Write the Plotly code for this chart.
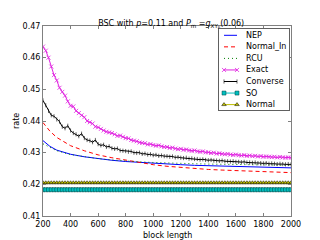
import plotly.graph_objects as go

# block lengths for the simulated (marked) series
x_dense = list(range(200, 2001, 20))
# block lengths for smooth curves
x_smooth = [200, 250, 300, 400, 500, 600, 700, 800, 900, 1000, 1100, 1200,
            1300, 1400, 1500, 1600, 1700, 1800, 1900, 2000]

nep = [0.4338, 0.4320, 0.4308, 0.4295, 0.4287, 0.4281, 0.4276, 0.4272, 0.4269, 0.4266,
       0.4264, 0.4262, 0.4260, 0.4259, 0.4257, 0.4256, 0.4255, 0.4254, 0.4253, 0.4252]
normal_in = [0.4395, 0.4368, 0.4348, 0.4322, 0.4306, 0.4293, 0.4284, 0.4276, 0.4268, 0.4262,
             0.4257, 0.4253, 0.4250, 0.4247, 0.4245, 0.4243, 0.4241, 0.4239, 0.4238, 0.4237]
rcu = [0.4328, 0.4316, 0.4306, 0.4294, 0.4287, 0.4281, 0.4277, 0.4273, 0.4271, 0.4269,
       0.4267, 0.4266, 0.4265, 0.4264, 0.4263, 0.4262, 0.4262, 0.4261, 0.4261, 0.4260]

exact = [0.4635, 0.4622, 0.4600, 0.4572, 0.4545, 0.4528, 0.4505, 0.4492, 0.4480, 0.4462,
         0.4448, 0.4446, 0.4432, 0.4425, 0.4418, 0.4412, 0.4400, 0.4396, 0.4392, 0.4382,
         0.4380, 0.4375, 0.4370, 0.4366, 0.4364, 0.4362, 0.4358, 0.4353, 0.4354, 0.4350,
         0.4346, 0.4345, 0.4340, 0.4338, 0.4336, 0.4332, 0.4331, 0.4330, 0.4326, 0.4327,
         0.4324, 0.4322, 0.4323, 0.4320, 0.4318, 0.4318, 0.4315, 0.4316, 0.4313, 0.4311,
         0.4312, 0.4309, 0.4310, 0.4307, 0.4306, 0.4307, 0.4304, 0.4303, 0.4304, 0.4301,
         0.4301, 0.4299, 0.4300, 0.4297, 0.4298, 0.4296, 0.4295, 0.4296, 0.4294, 0.4293,
         0.4294, 0.4292, 0.4291, 0.4292, 0.4290, 0.4291, 0.4289, 0.4290, 0.4288, 0.4289,
         0.4287, 0.4288, 0.4287, 0.4286, 0.4287, 0.4285, 0.4286, 0.4285, 0.4284, 0.4285,
         0.4284]

converse = [0.4465, 0.4450, 0.4432, 0.4418, 0.4415, 0.4405, 0.4398, 0.4382, 0.4377, 0.4385,
            0.4370, 0.4362, 0.4358, 0.4352, 0.4360, 0.4346, 0.4340, 0.4338, 0.4333, 0.4340,
            0.4327, 0.4323, 0.4325, 0.4318, 0.4320, 0.4314, 0.4312, 0.4313, 0.4307, 0.4306,
            0.4305, 0.4303, 0.4304, 0.4300, 0.4299, 0.4300, 0.4296, 0.4297, 0.4294, 0.4295,
            0.4292, 0.4293, 0.4290, 0.4291, 0.4289, 0.4289, 0.4287, 0.4288, 0.4285, 0.4286,
            0.4284, 0.4283, 0.4284, 0.4281, 0.4282, 0.4280, 0.4280, 0.4278, 0.4279, 0.4277,
            0.4276, 0.4277, 0.4275, 0.4275, 0.4274, 0.4275, 0.4273, 0.4273, 0.4272, 0.4273,
            0.4271, 0.4271, 0.4270, 0.4271, 0.4269, 0.4269, 0.4268, 0.4269, 0.4267, 0.4267,
            0.4266, 0.4267, 0.4265, 0.4266, 0.4265, 0.4264, 0.4265, 0.4264, 0.4263, 0.4264,
            0.4263]

so_value = 0.4183
normal_value = 0.4205
so = [so_value for _ in x_dense]
normal = [normal_value for _ in x_dense]

x_ticks = [200, 400, 600, 800, 1000, 1200, 1400, 1600, 1800, 2000]
y_ticks = [0.41, 0.42, 0.43, 0.44, 0.45, 0.46, 0.47]

# series styles (name, x, y, mode, line, marker)
styles = [
    ("NEP", x_smooth, nep, "lines", dict(color="#0000ff", width=1), None),
    ("Normal_In", x_smooth, normal_in, "lines",
     dict(color="#ff0000", width=1, dash="4px,3px"), None),
    ("RCU", x_smooth, rcu, "lines", dict(color="#008000", width=1, dash="1px,3px"), None),
    ("Exact", x_dense, exact, "lines+markers", dict(color="#e020e0", width=1),
     dict(symbol="x-thin-open", size=4, line=dict(color="#e020e0", width=0.8))),
    ("Converse", x_dense, converse, "lines+markers", dict(color="#000000", width=1),
     dict(symbol="line-ns-open", size=3, line=dict(color="#000000", width=0.6))),
    ("SO", x_dense, so, "lines+markers", dict(color="#00bfbf", width=1),
     dict(symbol="square", size=4, color="#00bfbf", line=dict(color="#004040", width=0.5))),
    ("Normal", x_dense, normal, "lines+markers", dict(color="#bfbf00", width=1),
     dict(symbol="triangle-up", size=4, color="#bfbf00", line=dict(color="#000000", width=0.5))),
]

fig = go.Figure()
for name, xs, ys, mode, line, marker in styles:
    kw = dict(x=xs, y=ys, name=name, mode=mode, line=line, showlegend=False)
    if marker is not None:
        kw["marker"] = marker
    fig.add_trace(go.Scatter(**kw))

# compact legend: its own small subplot whose frame is the legend box
# (nominal pixel units of the plot area, 248 x 190 px)
PLOT_L, PLOT_R, PLOT_T, PLOT_B = 40, 288, 25, 215
LEG_X0, LEG_X1, LEG_Y0, LEG_Y1 = 216, 286, 28, 109
ROW0, ROW_STEP = 34.3, 11.55
SAMPLE_X0, SAMPLE_X1, TEXT_X = 221, 234, 241

for i, (name, xs, ys, mode, line, marker) in enumerate(styles):
    yy = ROW0 + i * ROW_STEP
    kw = dict(x=[SAMPLE_X0, SAMPLE_X1], y=[yy, yy], mode=mode, line=line,
              xaxis="x3", yaxis="y3", showlegend=False, hoverinfo="skip", cliponaxis=False)
    if marker is not None:
        kw["marker"] = marker
    fig.add_trace(go.Scatter(**kw))
    fig.add_annotation(x=TEXT_X, y=yy, xref="x3", yref="y3", text=name, showarrow=False,
                       xanchor="left", yanchor="middle", font=dict(size=8, color="#000000"))

axis_common = dict(showgrid=False, zeroline=False, showline=True, linecolor="#808080",
                   linewidth=1, mirror="ticks", ticks="inside", ticklen=3, automargin=False,
                   tickcolor="#808080", tickfont=dict(size=8, color="#000000"))
legend_axis = dict(showgrid=False, zeroline=False, showline=True, linecolor="#606060",
                   linewidth=1, mirror=True, ticks="", showticklabels=False,
                   automargin=False, fixedrange=True)

PW, PH = PLOT_R - PLOT_L, PLOT_B - PLOT_T
M_L, M_T = 35, 18

fig.update_layout(
    xaxis=dict(range=[200, 2000], tickvals=x_ticks, ticktext=[str(v) for v in x_ticks],
               **axis_common),
    yaxis=dict(range=[0.41, 0.47], tickvals=y_ticks, ticktext=[f"{v:.2f}" for v in y_ticks],
               **axis_common),
    xaxis3=dict(range=[LEG_X0, LEG_X1], anchor="y3",
                domain=[(LEG_X0 - PLOT_L) / PW, (LEG_X1 - PLOT_L) / PW],
                **legend_axis),
    yaxis3=dict(range=[LEG_Y1, LEG_Y0], anchor="x3",
                domain=[(PLOT_B - LEG_Y1) / PH, (PLOT_B - LEG_Y0) / PH],
                **legend_axis),
    width=320, height=240,
    margin=dict(l=M_L, r=320 - M_L - PW, t=M_T, b=240 - M_T - PH, autoexpand=False),
    paper_bgcolor="white", plot_bgcolor="white",
    font=dict(family="DejaVu Sans", size=8, color="#000000"),
    title=dict(text="BSC with <i>p</i>=0.11 and <i>P</i><sub>m</sub> =<i>g</i><sub>XY<sub>P</sub></sub>(0.06)",
               x=0.51, xanchor="center", y=0.935, yanchor="middle", font=dict(size=8)),
    showlegend=False,
)

# axis titles placed below / left of the tick labels
fig.add_annotation(text="block length", xref="paper", yref="paper", x=0.5,
                   y=-19 / PH, showarrow=False,
                   xanchor="center", yanchor="middle", font=dict(size=8, color="#000000"))
fig.add_annotation(text="rate", xref="paper", yref="paper", x=-27 / PW,
                   y=0.5, showarrow=False, textangle=-90,
                   xanchor="center", yanchor="middle", font=dict(size=8, color="#000000"))

fig.write_html("out.html")
